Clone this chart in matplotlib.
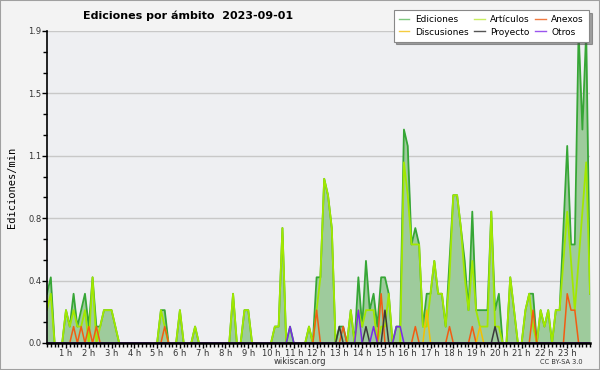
import numpy as np
import matplotlib
matplotlib.use("Agg")
import matplotlib.pyplot as plt
from matplotlib.ticker import FixedLocator, MultipleLocator, AutoMinorLocator
from matplotlib.patches import Rectangle

# edits per minute, one value per 10-minute bin (00:10 .. 24:00)
ediciones = [
    0.3, 0.4, 0, 0, 0, 0.2, 0.1, 0.3, 0.1, 0.2, 0.3, 0.1,
    0.4, 0.1, 0.1, 0.2, 0.2, 0.2, 0.1, 0, 0, 0, 0, 0,
    0, 0, 0, 0, 0, 0, 0.2, 0.2, 0, 0, 0, 0.2,
    0, 0, 0, 0.1, 0, 0, 0, 0, 0, 0, 0, 0,
    0, 0.3, 0, 0, 0.2, 0.2, 0, 0, 0, 0, 0, 0,
    0.1, 0.1, 0.7, 0, 0.1, 0, 0, 0, 0, 0.1, 0, 0.4,
    0.4, 1.0, 0.9, 0.7, 0, 0.1, 0.1, 0, 0.2, 0, 0.4, 0.1,
    0.5, 0.2, 0.3, 0.1, 0.4, 0.4, 0.3, 0, 0.1, 0.1, 1.3, 1.2,
    0.6, 0.7, 0.6, 0.1, 0.3, 0.3, 0.5, 0.3, 0.3, 0.1, 0.5, 0.9,
    0.9, 0.7, 0.5, 0.2, 0.8, 0.2, 0.2, 0.2, 0.2, 0.8, 0.2, 0.3,
    0, 0, 0.4, 0.2, 0, 0, 0.2, 0.3, 0.3, 0, 0.2, 0.1,
    0.2, 0, 0.2, 0.2, 0.7, 1.2, 0.6, 0.6, 1.9, 1.3, 1.9, 0.3,
]
articulos = [
    0.2, 0.3, 0, 0, 0, 0.2, 0.1, 0.2, 0.1, 0.1, 0.2, 0,
    0.4, 0, 0.1, 0.2, 0.2, 0.2, 0.1, 0, 0, 0, 0, 0,
    0, 0, 0, 0, 0, 0, 0.2, 0.1, 0, 0, 0, 0.2,
    0, 0, 0, 0.1, 0, 0, 0, 0, 0, 0, 0, 0,
    0, 0.3, 0, 0, 0.2, 0.2, 0, 0, 0, 0, 0, 0,
    0.1, 0.1, 0.7, 0, 0, 0, 0, 0, 0, 0.1, 0, 0.2,
    0.4, 1.0, 0.9, 0.7, 0, 0, 0, 0, 0.2, 0, 0.2, 0.1,
    0.2, 0.2, 0.2, 0, 0.1, 0.1, 0.3, 0, 0, 0, 1.1, 0.9,
    0.6, 0.6, 0.6, 0.1, 0.1, 0.3, 0.5, 0.3, 0.3, 0.1, 0.4, 0.9,
    0.9, 0.7, 0.4, 0.2, 0.5, 0.2, 0.1, 0.1, 0.1, 0.8, 0.1, 0.1,
    0, 0, 0.4, 0.2, 0, 0, 0.2, 0.3, 0.1, 0, 0.2, 0.1,
    0.2, 0, 0.2, 0.2, 0.5, 0.8, 0.5, 0.2, 0.5, 0.8, 1.1, 0.3,
]
# sparse series: {bin: value}
anexos = {7: 0.1, 9: 0.1, 11: 0.1, 13: 0.1, 31: 0.1, 71: 0.2, 78: 0.1, 88: 0.3,
          97: 0.1, 106: 0.1, 112: 0.1, 128: 0.2, 137: 0.3, 138: 0.2, 139: 0.2}
discusiones = {100: 0.2, 114: 0.1}
proyecto = {77: 0.1, 84: 0.1, 89: 0.2, 118: 0.1}
otros = {64: 0.1, 82: 0.2, 86: 0.1, 92: 0.1, 93: 0.1}

hour_labels = [f"{h} h" for h in range(1, 24)]


def expand(d):
    v = np.zeros(144)
    for k, val in d.items():
        v[k] = val
    return v


t = (np.arange(144) + 1) / 6.0

fig = plt.figure(figsize=(6, 3.7), dpi=100, facecolor="#f3f3f3")
fig.patches.append(Rectangle((0, 0), 1, 1, transform=fig.transFigure, fill=False,
                             edgecolor="#a0a0a0", linewidth=1.5))
ax = fig.add_axes([47 / 600, 27 / 370, 543 / 600, 312 / 370])
ax.set_facecolor("#eeeff2")

ax.fill_between(t, ediciones, color="#9ecb9c", lw=0)
ax.plot(t, ediciones, color="#36a636", lw=1.3)
ax.plot(t, articulos, color="#a2e800", lw=1.3)
ax.plot(t, expand(anexos), color="#f25c12", lw=1.1)
ax.plot(t, expand(discusiones), color="#f5c000", lw=1.1)
ax.plot(t, expand(proyecto), color="#3a3a3a", lw=1.1)
ax.plot(t, expand(otros), color="#7a2ae8", lw=1.1)

ax.set_xlim(1 / 6, 24)
ax.set_ylim(0, 1.9)
yt = np.linspace(0, 1.9, 6)
ax.yaxis.set_major_locator(FixedLocator(yt))
ax.set_yticklabels([f"{v:.1f}" for v in yt])
ax.yaxis.set_minor_locator(AutoMinorLocator(3))
ax.xaxis.set_major_locator(FixedLocator(range(1, 24)))
ax.set_xticklabels(hour_labels)
ax.xaxis.set_minor_locator(MultipleLocator(1 / 6))
ax.grid(axis="y", color="#c8c8c8", lw=1)
ax.set_axisbelow(True)

for s in ["top", "right"]:
    ax.spines[s].set_visible(False)
ax.spines["left"].set_linewidth(1.2)
ax.spines["bottom"].set_linewidth(1.8)
ax.spines["bottom"].set_zorder(5)
ax.tick_params(axis="both", which="major", length=3.5, width=1, labelsize=6, pad=0.5,
               labelcolor="#333333")
ax.tick_params(axis="both", which="minor", length=3, width=1)

ax.set_ylabel("Ediciones/min", family="DejaVu Sans Mono", fontsize=7.5, labelpad=8)

fig.text(0.313, 0.958, "Ediciones por ámbito  2023-09-01", ha="center", va="center",
         fontsize=8, fontweight="bold")
fig.text(0.5, 0.022, "wikiscan.org", ha="center", va="center", fontsize=6, color="#333333")
fig.text(0.935, 0.022, "CC BY-SA 3.0", ha="center", va="center", fontsize=4.8, color="#333333")

handles = [
    plt.Line2D([], [], color="#7fc87f", lw=1),
    plt.Line2D([], [], color="#f5cc40", lw=1),
    plt.Line2D([], [], color="#c8ee60", lw=1),
    plt.Line2D([], [], color="#555555", lw=1),
    plt.Line2D([], [], color="#f07a40", lw=1),
    plt.Line2D([], [], color="#9a55ee", lw=1),
]
names = ["Ediciones", "Discusiones", "Artículos", "Proyecto", "Anexos", "Otros"]
leg = fig.legend(handles, names, ncol=3, loc="upper right",
                 bbox_to_anchor=(589 / 600, 1 - 10 / 370), fontsize=6.5,
                 frameon=True, fancybox=False, shadow=True, handlelength=1.2,
                 handletextpad=0.6, columnspacing=0.6, labelspacing=0.4,
                 borderpad=0.55, borderaxespad=0)
leg.get_frame().set_edgecolor("#888888")
leg.get_frame().set_linewidth(0.8)

fig.savefig("out.png", dpi=100, facecolor=fig.get_facecolor())
